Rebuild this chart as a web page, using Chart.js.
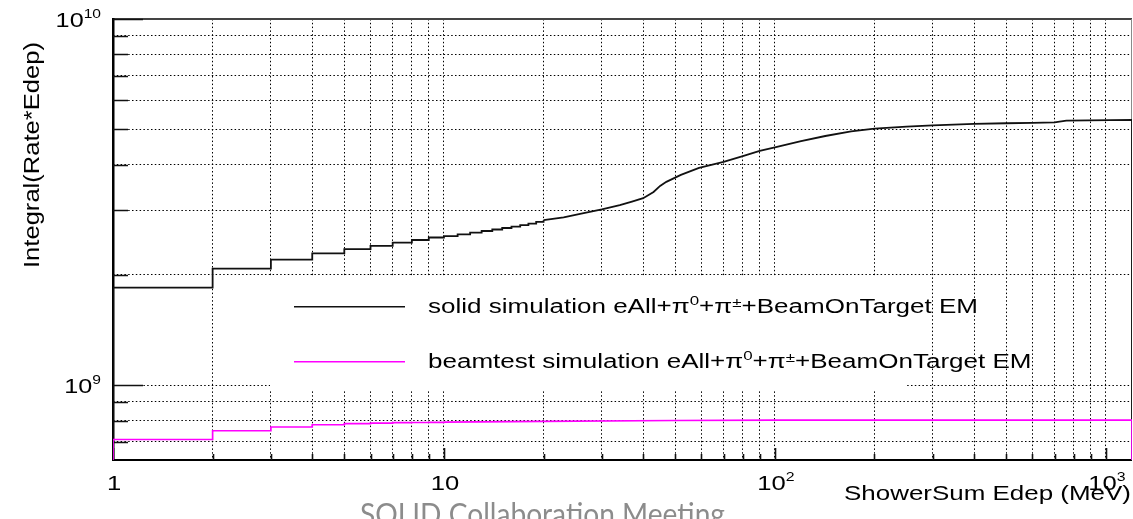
<!DOCTYPE html>
<html>
<head>
<meta charset="utf-8">
<script src="https://cdn.jsdelivr.net/npm/chart.js@4/dist/chart.umd.min.js"></script>
<style>
  html, body { margin: 0; padding: 0; background: #fff; overflow: hidden; }
  canvas { display: block; }
</style>
</head>
<body>
<canvas id="chart" width="1133" height="519" style="width:1133px;height:519px"></canvas>
<script>
// Axis ranges (MeV on x, integrated rate*Edep on y)
const X_MIN = 1, X_MAX = 1200;
const Y_MIN = 6.24e8, Y_MAX = 1e10;

// solid simulation: individual 1 MeV bins at low energy
const solidStepEdges  = [1, 2, 3, 4, 5, 6, 7, 8, 9, 10, 11, 12, 13, 14, 15, 16, 17, 18, 19, 20];
const solidStepValues = [1.845e9, 2.08e9, 2.20e9, 2.29e9, 2.35e9, 2.40e9, 2.45e9, 2.49e9, 2.53e9, 2.55e9,
                         2.58e9, 2.61e9, 2.635e9, 2.66e9, 2.685e9, 2.71e9, 2.735e9, 2.76e9, 2.79e9, 2.82e9];
// solid simulation: higher energies, where the bins are too fine to separate
const solidTailEdges  = [20, 23, 26, 30, 34, 37, 40, 43, 45, 47, 52, 59, 70, 80, 90, 100, 120, 142, 170,
                         200, 250, 300, 400, 500, 600, 700, 760, 1200];
const solidTailValues = [2.82e9, 2.87e9, 2.94e9, 3.02e9, 3.10e9, 3.17e9, 3.24e9, 3.37e9, 3.50e9, 3.59e9,
                         3.75e9, 3.92e9, 4.07e9, 4.22e9, 4.36e9, 4.46e9, 4.64e9, 4.79e9, 4.93e9,
                         5.02e9, 5.08e9, 5.12e9, 5.17e9, 5.19e9, 5.20e9, 5.22e9, 5.28e9, 5.30e9];

// beamtest simulation
const beamStepEdges  = [1, 2, 3, 4, 5, 6, 7, 8, 9, 10];
const beamStepValues = [7.10e8, 7.50e8, 7.68e8, 7.79e8, 7.84e8, 7.87e8, 7.89e8, 7.90e8, 7.91e8, 7.92e8];
const beamTailEdges  = [10, 20, 50, 100, 1200];
const beamTailValues = [7.92e8, 7.96e8, 8.00e8, 8.02e8, 8.02e8];

// Tick labels ("^" marks a superscript)
const xLabelValues = [1, 10, 100, 1000];
const xLabelTexts  = ['1', '10', '10^{2}', '10^{3}'];
const yLabelValues = [1e9, 1e10];
const yLabelTexts  = ['10^{9}', '10^{10}'];

const xTitle = 'ShowerSum Edep (MeV)';
const yTitle = 'Integral(Rate*Edep)';
const legendTexts = [
  'solid simulation eAll+\u03c0^{0}+\u03c0^{\u00b1}+BeamOnTarget EM',
  'beamtest simulation eAll+\u03c0^{0}+\u03c0^{\u00b1}+BeamOnTarget EM'
];
const footerText = 'SOLID Collaboration Meeting';

const SOLID_COLOR = '#111111';
const BEAM_COLOR = '#ff00ff';
const FONT = '"Liberation Sans", Arial, Helvetica, sans-serif';

// Log-grid positions: 1..9 x each decade
function decadeGrid(lo, hi) {
  const out = [];
  for (let e = Math.floor(Math.log10(lo)); e <= Math.ceil(Math.log10(hi)); e++) {
    for (let m = 1; m <= 9; m++) {
      const v = m * Math.pow(10, e);
      if (v >= lo * 0.999 && v <= hi * 1.001) out.push(v);
    }
  }
  return out;
}

function toPoints(edges, values) {
  return edges.map((x, i) => ({ x: x, y: values[i] }));
}

// ---- rich text helpers (superscripts, horizontal scaling) ----
function parseRich(s) {
  const parts = [];
  let buf = '';
  for (let i = 0; i < s.length; i++) {
    if (s[i] === '^') {
      if (buf) { parts.push({ t: buf }); buf = ''; }
      if (s[i + 1] === '{') {
        const end = s.indexOf('}', i + 2);
        parts.push({ t: s.slice(i + 2, end), sup: true });
        i = end;
      } else {
        parts.push({ t: s[i + 1], sup: true });
        i++;
      }
    } else {
      buf += s[i];
    }
  }
  if (buf) parts.push({ t: buf });
  return parts;
}
function partFont(p, size, family) {
  return (p.sup ? Math.round(size * 0.64) : size) + 'px ' + family;
}
function richWidth(ctx, parts, size, family) {
  let w = 0;
  for (const p of parts) { ctx.font = partFont(p, size, family); w += ctx.measureText(p.t).width; }
  return w;
}
function drawRich(ctx, text, o) {
  const family = o.family || FONT;
  const parts = parseRich(text);
  ctx.save();
  ctx.translate(o.x, o.y);
  if (o.angle) ctx.rotate(o.angle);
  const raw = richWidth(ctx, parts, o.size, family);
  const sx = o.width ? o.width / raw : (o.sx || 1);
  ctx.scale(sx, 1);
  let cx = o.align === 'right' ? -raw : (o.align === 'center' ? -raw / 2 : 0);
  ctx.fillStyle = o.color || '#000';
  ctx.textAlign = 'left';
  ctx.textBaseline = 'alphabetic';
  for (const p of parts) {
    ctx.font = partFont(p, o.size, family);
    const raise = p.t === '\u00b1' ? 0.32 : 0.42;
    ctx.fillText(p.t, cx, p.sup ? -o.size * raise : 0);
    cx += ctx.measureText(p.t).width;
  }
  ctx.restore();
  return raw * sx;
}

// ---- frame, ticks, legend box and texts ----
const framePlugin = {
  id: 'rootFrame',
  beforeDatasetsDraw(chart) {
    const { ctx, chartArea: a, scales: { x, y } } = chart;
    ctx.save();
    // legend box (opaque, hides the grid behind it)
    ctx.fillStyle = '#ffffff';
    ctx.fillRect(270, 276.5, 637, 114);

    // frame
    ctx.fillStyle = '#444444';
    ctx.fillRect(a.left, a.top - 1, a.right - a.left, 2);
    ctx.fillStyle = '#8a8a8a';
    ctx.fillRect(a.right - 1, a.top, 1, a.bottom - a.top);
    ctx.fillStyle = '#000000';
    ctx.fillRect(a.left - 1, a.top - 1, 2.5, a.bottom - a.top + 2);
    ctx.fillRect(a.left - 1, a.bottom - 1, a.right - a.left + 1, 2);

    // tick marks, pointing into the frame
    ctx.strokeStyle = '#111';
    ctx.lineWidth = 1.6;
    ctx.beginPath();
    for (const t of y.ticks) {
      const py = Math.round(y.getPixelForValue(t.value)) + 0.5;
      const major = Math.abs(Math.log10(t.value) - Math.round(Math.log10(t.value))) < 1e-9;
      ctx.moveTo(a.left, py);
      ctx.lineTo(a.left + (major ? 30 : 15), py);
    }
    for (const t of x.ticks) {
      const px = Math.round(x.getPixelForValue(t.value)) + 0.5;
      const major = Math.abs(Math.log10(t.value) - Math.round(Math.log10(t.value))) < 1e-9;
      ctx.moveTo(px, a.bottom);
      ctx.lineTo(px, a.bottom - (major ? 12 : 6));
    }
    ctx.stroke();
    ctx.restore();
  },
  afterDraw(chart) {
    const { ctx, chartArea: a, scales: { x, y } } = chart;
    ctx.save();
    // tick labels
    xLabelValues.forEach((v, i) => {
      drawRich(ctx, xLabelTexts[i], { x: x.getPixelForValue(v) + 1, y: 490, size: 21, sx: 1.22, align: 'center' });
    });
    yLabelValues.forEach((v, i) => {
      drawRich(ctx, yLabelTexts[i], { x: 101, y: y.getPixelForValue(v) + 8, size: 21, sx: 1.2, align: 'right' });
    });
    // axis titles
    drawRich(ctx, xTitle, { x: 1131, y: 500, size: 21, width: 287, align: 'right' });
    drawRich(ctx, yTitle, { x: 39, y: 268, size: 22, width: 226, align: 'left', angle: -Math.PI / 2 });

    // legend
    const colors = [SOLID_COLOR, BEAM_COLOR];
    const rows = [306.7, 361.7];
    let sx = null;
    legendTexts.forEach((t, i) => {
      ctx.strokeStyle = colors[i];
      ctx.lineWidth = 1.6;
      ctx.beginPath();
      ctx.moveTo(294, rows[i]);
      ctx.lineTo(405, rows[i]);
      ctx.stroke();
      if (sx === null) {
        const raw = richWidth(ctx, parseRich(t), 20, FONT);
        sx = 550 / raw;
      }
      drawRich(ctx, t, { x: 428, y: rows[i] + 6.5, size: 20, sx: sx, align: 'left' });
    });

    // slide footer
    drawRich(ctx, footerText, { x: 360, y: 525, size: 30, width: 365, align: 'left',
                                family: 'Lato, "Open Sans", sans-serif', color: '#8c8c8c' });
    ctx.restore();
  }
};

const gridStyle = {
  color: '#000000',
  lineWidth: 1,
  drawTicks: false
};

new Chart(document.getElementById('chart'), {
  type: 'line',
  data: {
    datasets: [
      {
        label: 'beamtest simulation (bins)',
        data: [{ x: X_MIN, y: Y_MIN }].concat(toPoints(beamStepEdges, beamStepValues)),
        borderColor: BEAM_COLOR, borderWidth: 1.7, stepped: 'before', pointRadius: 0
      },
      {
        label: 'beamtest simulation',
        data: toPoints(beamTailEdges, beamTailValues).concat([{ x: X_MAX, y: Y_MIN }]),
        borderColor: BEAM_COLOR, borderWidth: 1.7, pointRadius: 0, tension: 0
      },
      {
        label: 'solid simulation (bins)',
        data: [{ x: X_MIN, y: Y_MIN }].concat(toPoints(solidStepEdges, solidStepValues)),
        borderColor: SOLID_COLOR, borderWidth: 1.8, stepped: 'before', pointRadius: 0
      },
      {
        label: 'solid simulation',
        data: toPoints(solidTailEdges, solidTailValues).concat([{ x: X_MAX, y: Y_MIN }]),
        borderColor: SOLID_COLOR, borderWidth: 1.8, pointRadius: 0, tension: 0
      }
    ]
  },
  options: {
    responsive: false,
    animation: false,
    devicePixelRatio: 1,
    layout: { padding: { top: 19, right: 1, left: 0, bottom: 0 } },
    plugins: { legend: { display: false }, tooltip: { enabled: false } },
    elements: { line: { fill: false } },
    scales: {
      x: {
        type: 'logarithmic',
        min: X_MIN, max: X_MAX,
        ticks: { display: false },
        grid: gridStyle,
        border: { display: false, dash: [1.5, 2.3] },
        afterBuildTicks: (s) => { s.ticks = decadeGrid(X_MIN, 1000).map(v => ({ value: v })); },
        afterFit: (s) => { s.height = 59; }
      },
      y: {
        type: 'logarithmic',
        min: Y_MIN, max: Y_MAX,
        ticks: { display: false },
        grid: gridStyle,
        border: { display: false, dash: [1.5, 2.3] },
        afterBuildTicks: (s) => { s.ticks = decadeGrid(7e8, Y_MAX).map(v => ({ value: v })); },
        afterFit: (s) => { s.width = 113; }
      }
    }
  },
  plugins: [framePlugin]
});
</script>
</body>
</html>
